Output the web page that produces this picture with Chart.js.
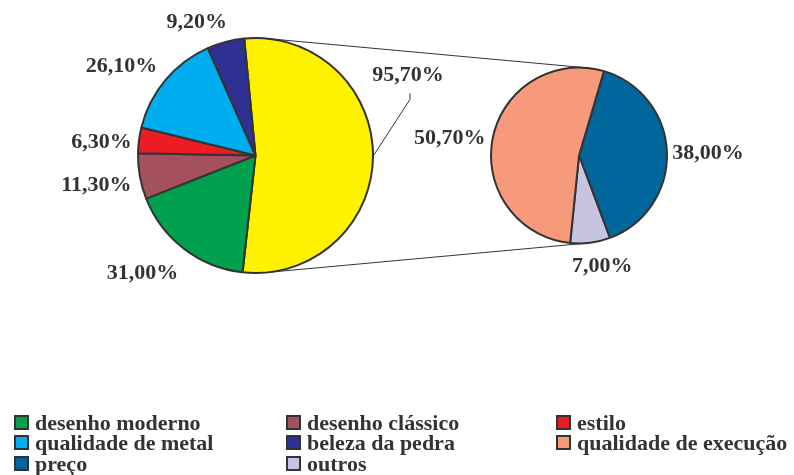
<!DOCTYPE html>
<html>
<head>
<meta charset="utf-8">
<script src="https://cdn.jsdelivr.net/npm/chart.js@4.4.0/dist/chart.umd.min.js"></script>
<style>
  html, body { margin: 0; padding: 0; background: #fff; }
  #wrap { position: relative; width: 794px; height: 475px; overflow: hidden; }
  #wrap canvas { position: absolute; left: 0; top: 0; }
  #legend {
    position: absolute; left: 14px; top: 413px;
    display: grid; grid-template-columns: 272px 270px 240px;
    font: bold 22px "Liberation Serif", "Times New Roman", serif;
    line-height: 20.3px; color: #333;
  }
  #legend .item { display: flex; align-items: flex-start; white-space: nowrap; }
  #legend .swatch { width: 11px; height: 11px; border: 2px solid #333; margin: 2px 6px 0 0; flex: none; }
</style>
</head>
<body>
<div id="wrap">
  <canvas id="sub-pie" width="794" height="475"></canvas>
  <canvas id="main-pie" width="794" height="475"></canvas>
  <div id="legend"></div>
</div>
<script>
// main pie categories (the split slice is added in front of them)
const mainCategories = ["desenho moderno", "desenho clássico", "estilo", "qualidade de metal", "beleza da pedra"];
const mainValues = [31.0, 11.3, 6.3, 26.1, 9.2];
const mainColors = ["#00a14e", "#a5505e", "#ec1c24", "#00aeef", "#2e3192"];

// secondary pie: breakdown of the split slice
const subCategories = ["preço", "outros", "qualidade de execução"];
const subValues = [38.0, 7.0, 50.7];
const subColors = ["#00669b", "#c6c4e1", "#f69a7b"];

const splitColor = "#fff200";
const splitValue = +subValues.reduce((a, b) => a + b, 0).toFixed(2);

// legend order (row by row, three columns)
const legendOrder = ["desenho moderno", "desenho clássico", "estilo", "qualidade de metal",
  "beleza da pedra", "qualidade de execução", "preço", "outros"];

// label nudges from each slice's outer midpoint, in px
const mainLabelNudge = [[35, -82], [-41.6, 23.2], [-43.4, 7.2], [-37.5, 0.2], [-43.9, -15.1], [-28.9, -20.8]];
const subLabelNudge = [[41, 0], [12, 22], [-43, -1.5]];

const INK = "#333";
const FONT = 'bold 22px "Liberation Serif", "Times New Roman", serif';

function pct(v) {
  return v.toFixed(2).replace(".", ",") + "%";
}

function outerMid(arc) {
  const mid = (arc.startAngle + arc.endAngle) / 2;
  return { x: arc.x + Math.cos(mid) * arc.outerRadius, y: arc.y + Math.sin(mid) * arc.outerRadius };
}

function drawLabels(ctx, arcs, values, nudges) {
  ctx.save();
  ctx.font = FONT;
  ctx.fillStyle = INK;
  ctx.textAlign = "center";
  ctx.textBaseline = "alphabetic";
  arcs.forEach((arc, i) => {
    const p = outerMid(arc);
    ctx.fillText(pct(values[i]), p.x + nudges[i][0], p.y + nudges[i][1] + 7);
  });
  ctx.restore();
}

function pieOptions(padding, radius, rotation) {
  return {
    responsive: false,
    animation: false,
    events: [],
    radius,
    rotation,
    layout: { padding },
    plugins: { legend: { display: false }, tooltip: { enabled: false } },
  };
}

const subChart = new Chart(document.getElementById("sub-pie"), {
  type: "pie",
  data: {
    labels: subCategories,
    datasets: [{ data: subValues, backgroundColor: subColors, borderColor: INK, borderWidth: 2 }],
  },
  options: pieOptions({ left: 400, right: 36, top: 0, bottom: 164 }, 88, 16.5),
  plugins: [{
    id: "subLabels",
    afterDatasetsDraw(chart) {
      drawLabels(chart.ctx, chart.getDatasetMeta(0).data, subValues, subLabelNudge);
    },
  }],
});

// the two outer tangents between the pies + the leader for the split slice label
const connectors = {
  id: "connectors",
  afterDatasetsDraw(chart) {
    const ctx = chart.ctx;
    const big = chart.getDatasetMeta(0).data[0];
    const small = subChart.getDatasetMeta(0).data[0];
    const dx = small.x - big.x, dy = small.y - big.y;
    const d = Math.hypot(dx, dy);
    const ux = dx / d, uy = dy / d;
    const k = (big.outerRadius - small.outerRadius) / d;
    const s = Math.sqrt(1 - k * k);

    ctx.save();
    ctx.strokeStyle = INK;
    ctx.lineWidth = 1;
    [-1, 1].forEach((sign) => {
      const nx = k * ux - sign * s * uy;
      const ny = k * uy + sign * s * ux;
      ctx.beginPath();
      ctx.moveTo(big.x + nx * big.outerRadius, big.y + ny * big.outerRadius);
      ctx.lineTo(small.x + nx * small.outerRadius, small.y + ny * small.outerRadius);
      ctx.stroke();
    });

    const p = outerMid(big);
    const lx = p.x + mainLabelNudge[0][0] + 2;
    const ly = p.y + mainLabelNudge[0][1];
    ctx.beginPath();
    ctx.moveTo(p.x, p.y);
    ctx.lineTo(lx, ly + 25);
    ctx.lineTo(lx, ly + 19);
    ctx.stroke();
    ctx.restore();

    drawLabels(ctx, chart.getDatasetMeta(0).data, [splitValue, ...mainValues], mainLabelNudge);
  },
};

const mainChart = new Chart(document.getElementById("main-pie"), {
  type: "pie",
  data: {
    labels: ["grupo", ...mainCategories],
    datasets: [{
      data: [splitValue, ...mainValues],
      backgroundColor: [splitColor, ...mainColors],
      borderColor: INK,
      borderWidth: 2,
    }],
  },
  options: pieOptions({ left: 0, right: 283, top: 0, bottom: 164 }, 117.5, -5.5),
  plugins: [connectors],
});

// legend
const colorOf = {};
mainCategories.forEach((c, i) => (colorOf[c] = mainColors[i]));
subCategories.forEach((c, i) => (colorOf[c] = subColors[i]));
const legendEl = document.getElementById("legend");
legendOrder.forEach((name) => {
  const item = document.createElement("div");
  item.className = "item";
  const sw = document.createElement("span");
  sw.className = "swatch";
  sw.style.background = colorOf[name];
  const txt = document.createElement("span");
  txt.textContent = name;
  item.appendChild(sw);
  item.appendChild(txt);
  legendEl.appendChild(item);
});
</script>
</body>
</html>
